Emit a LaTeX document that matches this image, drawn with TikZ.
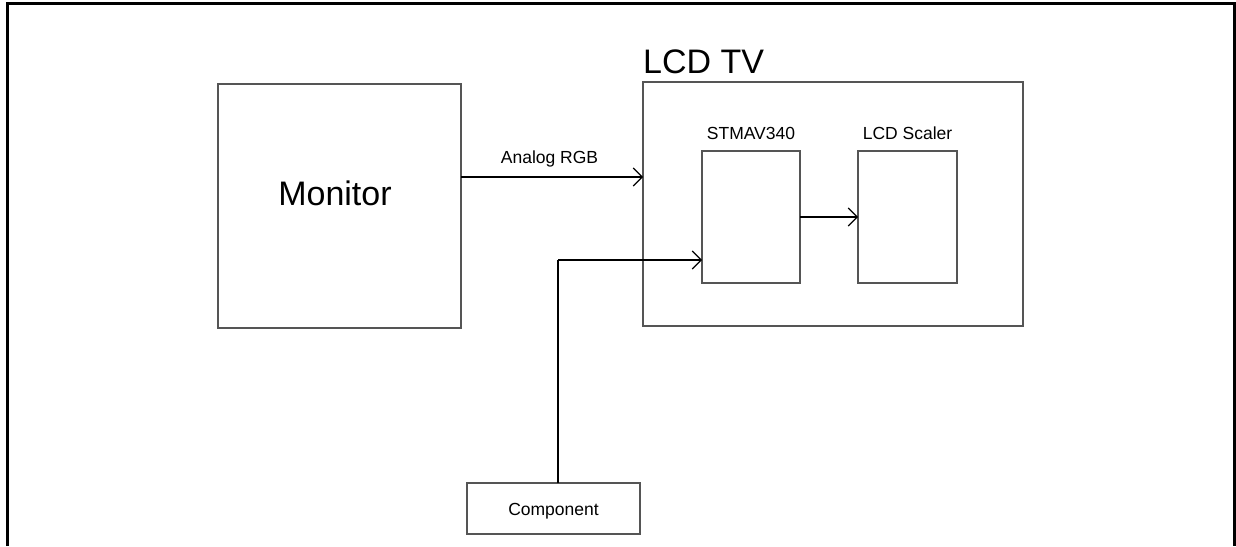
\documentclass[tikz,border=0pt]{standalone}
\usepackage{fontspec}
\setmainfont{Liberation Sans}
\usetikzlibrary{arrows.meta}
\definecolor{boxgray}{RGB}{85,85,85}
\tikzset{
  blk/.style={draw=boxgray, line width=1.8pt, fill=white, minimum width=#1, inner sep=0pt, outer sep=0pt},
  arr/.style={draw=black, line width=1.1pt, -{Straight Barb[length=9pt,width=18pt,line width=1.1pt]}},
  plain/.style={draw=black, line width=1.1pt},
  small/.style={font=\fontsize{17.5}{20}\selectfont, inner sep=0pt},
  big/.style={font=\fontsize{34}{40}\selectfont, inner sep=0pt}
}
\begin{document}
\begin{tikzpicture}[x=1pt,y=-1pt]
\useasboundingbox (0,0) rectangle (1236,546);
% outer frame (open at bottom)
\draw[line width=3pt, black] (7,546) -- (7,3) -- (1234,3) -- (1234,546);
% boxes
\node[blk=243pt, minimum height=244pt] (monitor) at (339.5,206) {};
\node[blk=380pt, minimum height=244pt] (lcd) at (833,204) {};
\node[blk=98pt, minimum height=132pt] (stm) at (751,217) {};
\node[blk=99pt, minimum height=132pt] (scaler) at (907.5,217) {};
\node[blk=173pt, minimum height=51pt] (comp) at (553.5,508.5) {};
% texts
\node[big] (tmon) at (335,193) {Monitor};
\node[big, anchor=base west] (tlcd) at (643,73) {LCD TV};
\node[small, anchor=base] (tstm) at (751,139) {STMAV340};
\node[small, anchor=base] (tscl) at (907.5,139) {LCD Scaler};
\node[small, anchor=base] (trgb) at (549.5,163) {Analog RGB};
\node[small] (tcomp) at (553.5,511) {Component};
% connectors
\draw[arr] (monitor.east |- 0,177) -- (lcd.west |- 0,177);
\draw[arr] (stm.east |- 0,217) -- (scaler.west |- 0,217);
\coordinate (bend) at (558,260);
\draw[plain] (comp.north -| bend) -- (bend);
\draw[arr] (bend) -- (stm.west |- bend);
\end{tikzpicture}
\end{document}
